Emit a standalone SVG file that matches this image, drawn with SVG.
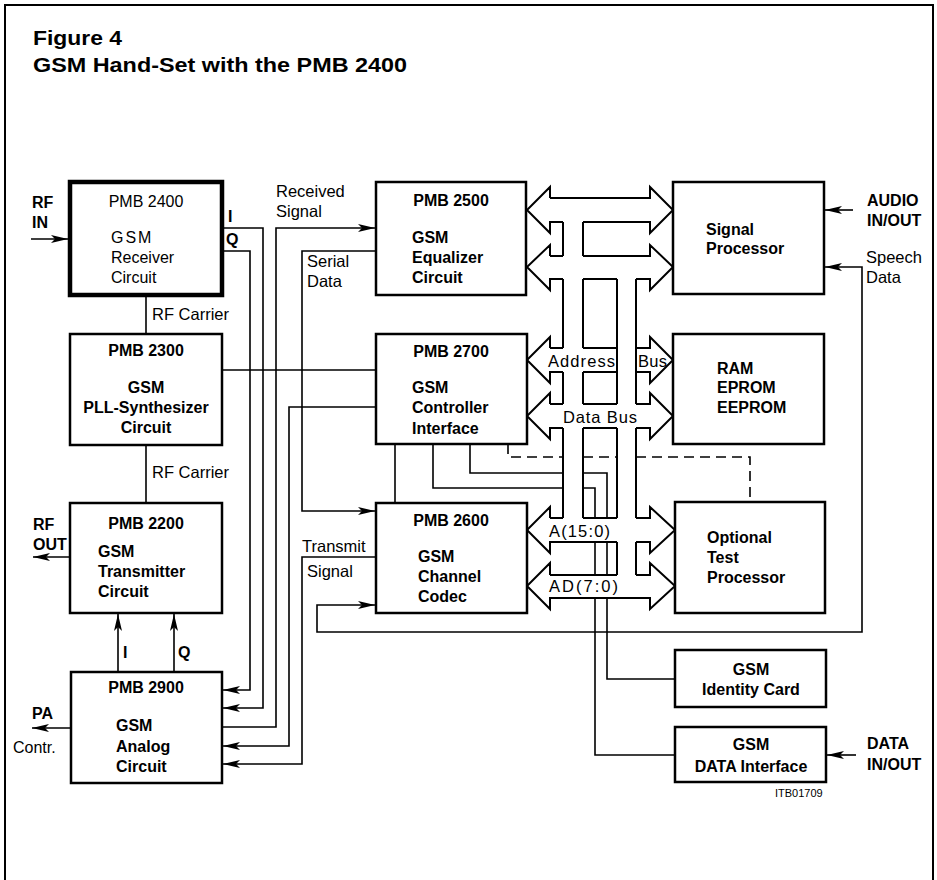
<svg xmlns="http://www.w3.org/2000/svg" width="937" height="880" viewBox="0 0 937 880">
<style>
.box{fill:#fff;stroke:#000;stroke-width:2.5}
.thick{stroke-width:4.5}
.ln{fill:none;stroke:#000;stroke-width:1.6}
.bus{fill:none;stroke:#000;stroke-width:2}
.dash{fill:none;stroke:#000;stroke-width:1.6;stroke-dasharray:10 6}
text{font-family:"Liberation Sans",Arial,sans-serif;fill:#000}
.t{font-size:16px;font-weight:bold}
.r{font-size:16.5px}
.rn{font-size:16px}
.c{text-anchor:middle}
.title{font-size:21px;font-weight:bold}
</style>
<defs>
<marker id="ah" viewBox="0 0 17 9" refX="17" refY="4.5" markerWidth="17" markerHeight="9" markerUnits="userSpaceOnUse" orient="auto-start-reverse">
<path d="M0,0.5 L17,4.5 L0,8.5 L4,4.5 z" fill="#000"/>
</marker>
</defs>
<rect x="0" y="0" width="937" height="880" fill="#fff"/>
<path d="M5,880 V5 H933 V880" fill="none" stroke="#000" stroke-width="2"/>
<text class="title" x="33" y="45" textLength="89" lengthAdjust="spacingAndGlyphs">Figure 4</text>
<text class="title" x="33" y="72" textLength="374" lengthAdjust="spacingAndGlyphs">GSM Hand-Set with the PMB 2400</text>

<g id="connectors">
<path class="ln" d="M31,239 H68" marker-end="url(#ah)"/>
<path class="ln" d="M70,557 H33" marker-end="url(#ah)"/>
<path class="ln" d="M70,728 H32" marker-end="url(#ah)"/>
<path class="ln" d="M146,295 V334"/>
<path class="ln" d="M146,445 V503"/>
<path class="ln" d="M118,672 V614" marker-end="url(#ah)"/>
<path class="ln" d="M174,672 V614" marker-end="url(#ah)"/>
<path class="ln" d="M224,251 H250 V690 H223" marker-end="url(#ah)"/>
<path class="ln" d="M224,228 H263 V708 H223" marker-end="url(#ah)"/>
<path class="ln" d="M222,727 H276 V228 H375" marker-end="url(#ah)"/>
<path class="ln" d="M376,407 H289 V746 H223" marker-end="url(#ah)"/>
<path class="ln" d="M376,557 H302 V764 H223" marker-end="url(#ah)"/>
<path class="ln" d="M376,251 H302 V511 H375" marker-end="url(#ah)"/>
<path class="ln" d="M222,370 H376"/>
<path class="ln" d="M825,267 H862 V632 H317 V605 H375" marker-start="url(#ah)" marker-end="url(#ah)"/>
<path class="ln" d="M853,210 H825" marker-end="url(#ah)"/>
<path class="ln" d="M856,755 H827" marker-end="url(#ah)"/>
<path class="ln" d="M395,444 V503"/>
<path class="ln" d="M433,444 V488 H563 M583,488 H595 V518 M595,542 V575 M595,598 V755 H675"/>
<path class="ln" d="M470,444 V473 H563 M583,473 H607 V518 M607,542 V575 M607,598 V679 H675"/>
<path class="dash" d="M508,444 V457 H563 M583,457 H617 M636,457 H750 V502"/>
<path class="bus" d="M550,198 V187 L527,210 L550,233 V222 H563 M583,222 H650 V233 L673,210 L650,187 V198 H550
M563,222 V256 M583,222 V256
M550,256 V245 L527,267 L550,290 V279 H563 M583,279 H617 M636,279 H650 V290 L673,267 L650,245 V256 H583 M563,256 H550
M563,279 V348 M583,279 V348
M550,348 V337 L527,360 L550,383 V372 H563 M583,372 H617 M583,348 H617 M563,348 H550
M636,348 H650 V337 L673,360 L650,383 V372 H636
M617,279 V404 M636,279 V404 M563,372 V404 M583,372 V404
M550,404 V393 L527,416 L550,439 V428 H563 M583,428 H617 M636,428 H650 V439 L673,416 L650,393 V404 H636 M617,404 H583 M563,404 H550
M563,428 V518 M583,428 V518 M617,428 V518 M636,428 V518
M550,518 V507 L527,530 L550,553 V542 H617 M636,542 H650 V553 L675,530 L650,507 V518 H636 M617,518 H583 M563,518 H550
M617,542 V575 M636,542 V575
M550,575 V563 L527,586 L550,609 V598 H650 V609 L675,586 L650,563 V575 H636 M617,575 H550"/>
</g>

<g id="labels">
<text class="t" x="32" y="208">RF</text>
<text class="t" x="32" y="228">IN</text>
<text class="t" x="228" y="222">I</text>
<text class="t" x="226" y="245">Q</text>
<text class="r" x="276" y="197">Received</text>
<text class="r" x="276" y="217">Signal</text>
<text class="r" x="307" y="267">Serial</text>
<text class="r" x="307" y="287">Data</text>
<text class="r" x="152" y="320">RF Carrier</text>
<text class="r" x="152" y="478">RF Carrier</text>
<text class="t" x="33" y="530">RF</text>
<text class="t" x="33" y="550">OUT</text>
<text class="r" x="302" y="552">Transmit</text>
<text class="r" x="307" y="577">Signal</text>
<text class="t" x="123" y="658">I</text>
<text class="t" x="178" y="658">Q</text>
<text class="t" x="32" y="719">PA</text>
<text class="rn" x="13" y="753">Contr.</text>
<text class="r" x="548" y="367" textLength="67">Address</text>
<text class="r" x="638" y="367" textLength="29">Bus</text>
<text class="r" x="563" y="423" textLength="74">Data Bus</text>
<text class="r" x="549" y="537" textLength="61">A(15:0)</text>
<text class="r" x="549" y="592" textLength="69">AD(7:0)</text>
<text class="t" x="867" y="206">AUDIO</text>
<text class="t" x="867" y="226">IN/OUT</text>
<text class="r" x="866" y="263">Speech</text>
<text class="r" x="866" y="283">Data</text>
<text class="t" x="867" y="749">DATA</text>
<text class="t" x="867" y="770">IN/OUT</text>
<text x="775" y="797" style="font-size:11px">ITB01709</text>
</g>

<g id="n2400">
<rect class="box thick" x="70" y="182" width="152" height="113"/>
<text class="rn c" x="146" y="207">PMB 2400</text>
<text class="rn" x="111" y="243" letter-spacing="2">GSM</text>
<text class="rn" x="111" y="263">Receiver</text>
<text class="rn" x="111" y="283">Circuit</text>
</g>
<g id="n2300">
<rect class="box" x="70" y="334" width="152" height="111"/>
<text class="t c" x="146" y="356">PMB 2300</text>
<text class="t c" x="146" y="393">GSM</text>
<text class="t c" x="146" y="413">PLL-Synthesizer</text>
<text class="t c" x="146" y="433">Circuit</text>
</g>
<g id="n2200">
<rect class="box" x="70" y="503" width="152" height="110"/>
<text class="t c" x="146" y="529">PMB 2200</text>
<text class="t" x="98" y="557">GSM</text>
<text class="t" x="98" y="577">Transmitter</text>
<text class="t" x="98" y="597">Circuit</text>
</g>
<g id="n2900">
<rect class="box" x="71" y="672" width="151" height="111"/>
<text class="t c" x="146" y="693">PMB 2900</text>
<text class="t" x="116" y="731">GSM</text>
<text class="t" x="116" y="752">Analog</text>
<text class="t" x="116" y="772">Circuit</text>
</g>
<g id="n2500">
<rect class="box" x="376" y="182" width="150" height="113"/>
<text class="t c" x="451" y="206">PMB 2500</text>
<text class="t" x="412" y="243">GSM</text>
<text class="t" x="412" y="263">Equalizer</text>
<text class="t" x="412" y="283">Circuit</text>
</g>
<g id="n2700">
<rect class="box" x="376" y="334" width="151" height="110"/>
<text class="t c" x="451" y="357">PMB 2700</text>
<text class="t" x="412" y="393">GSM</text>
<text class="t" x="412" y="413">Controller</text>
<text class="t" x="412" y="434">Interface</text>
</g>
<g id="n2600">
<rect class="box" x="376" y="503" width="151" height="110"/>
<text class="t c" x="451" y="526">PMB 2600</text>
<text class="t" x="418" y="562">GSM</text>
<text class="t" x="418" y="582">Channel</text>
<text class="t" x="418" y="602">Codec</text>
</g>
<g id="nSP">
<rect class="box" x="673" y="182" width="151" height="112"/>
<text class="t" x="706" y="235">Signal</text>
<text class="t" x="706" y="254">Processor</text>
</g>
<g id="nRAM">
<rect class="box" x="673" y="334" width="151" height="110"/>
<text class="t" x="717" y="374">RAM</text>
<text class="t" x="717" y="393">EPROM</text>
<text class="t" x="717" y="413">EEPROM</text>
</g>
<g id="nOTP">
<rect class="box" x="675" y="502" width="150" height="111"/>
<text class="t" x="707" y="543">Optional</text>
<text class="t" x="707" y="563">Test</text>
<text class="t" x="707" y="583">Processor</text>
</g>
<g id="nIC">
<rect class="box" x="675" y="650" width="151" height="57"/>
<text class="t c" x="751" y="675">GSM</text>
<text class="t c" x="751" y="695">Identity Card</text>
</g>
<g id="nDI">
<rect class="box" x="675" y="727" width="151" height="55"/>
<text class="t c" x="751" y="750">GSM</text>
<text class="t c" x="751" y="772">DATA Interface</text>
</g>
</svg>
